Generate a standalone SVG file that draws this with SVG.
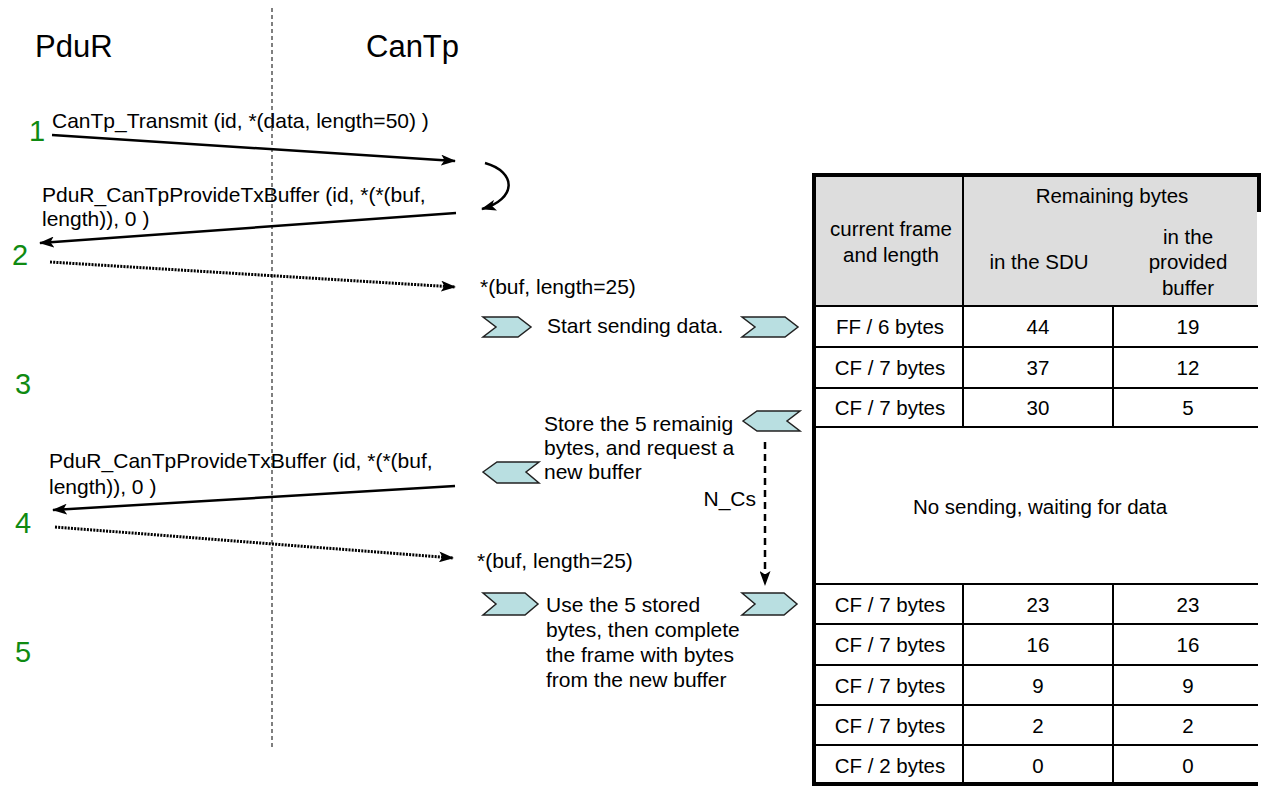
<svg xmlns="http://www.w3.org/2000/svg" width="1262" height="786" viewBox="0 0 1262 786">
<defs>
<marker id="ah" viewBox="0 0 15 11" refX="14" refY="5.5" markerWidth="15" markerHeight="11" markerUnits="userSpaceOnUse" orient="auto">
<path d="M0,0 L15,5.5 L0,11 L3.5,5.5 z" fill="#000"/>
</marker>
<style>
text{font-family:"Liberation Sans",Arial,sans-serif;fill:#000}
.t{font-size:21px}
.title{font-size:31px}
.num{font-size:29px;fill:#0f8a12}
.tb{font-size:20.5px;text-anchor:middle}
.msg{stroke:#000;stroke-width:2.5;fill:none}
.dot{stroke:#000;stroke-width:3;fill:none;stroke-dasharray:2 1.2}
.chev{fill:#b9dfe1;stroke:#222;stroke-width:1.5;stroke-linejoin:miter}
.grid{stroke:#000;stroke-width:2;fill:none}
.outer{stroke:#000;stroke-width:4;fill:none}
</style>
</defs>
<rect width="1262" height="786" fill="#fff"/>

<g id="lifeline-divider">
<line x1="272" y1="8" x2="272" y2="750" stroke="#555" stroke-width="1.5" stroke-dasharray="4 3"/>
</g>

<g id="pdur-title"><text class="title" x="35" y="57">PduR</text></g>
<g id="cantp-title"><text class="title" x="366" y="57">CanTp</text></g>

<g id="step-numbers">
<text class="num" x="29" y="141">1</text>
<text class="num" x="12" y="265">2</text>
<text class="num" x="15" y="394">3</text>
<text class="num" x="15" y="533">4</text>
<text class="num" x="15" y="662">5</text>
</g>

<g id="connectors">
<path class="msg" d="M52,135 L455,161" marker-end="url(#ah)"/>
<path class="msg" d="M485,163 C517,172 517,199 482,209" marker-end="url(#ah)"/>
<path class="msg" d="M456,213 L40,243" marker-end="url(#ah)"/>
<path class="dot" d="M50,262 L455,287" marker-end="url(#ah)"/>
<path class="msg" d="M455,486 L53,510" marker-end="url(#ah)"/>
<path class="dot" d="M55,527 L453,558" marker-end="url(#ah)"/>
<path d="M765,442 L765,585" stroke="#000" stroke-width="2.5" stroke-dasharray="7 5" fill="none" marker-end="url(#ah)"/>
</g>

<g id="msg-labels">
<text class="t" x="52" y="128">CanTp_Transmit (id, *(data, length=50) )</text>
<text class="t" x="42" y="202">PduR_CanTpProvideTxBuffer (id, *(*(buf,</text>
<text class="t" x="42" y="226">length)), 0 )</text>
<text class="t" x="480" y="294">*(buf, length=25)</text>
<text class="t" x="49" y="468">PduR_CanTpProvideTxBuffer (id, *(*(buf,</text>
<text class="t" x="49" y="494">length)), 0 )</text>
<text class="t" x="477" y="568">*(buf, length=25)</text>
<text class="t" x="756" y="506" text-anchor="end">N_Cs</text>
</g>

<g id="start-sending">
<polygon class="chev" points="483,317 518,317 531,327 518,337 483,337 496,327"/>
<text class="t" x="547" y="333">Start sending data.</text>
<polygon class="chev" points="742,317 785,317 798,327 785,337 742,337 755,327"/>
</g>

<g id="store-remaining">
<polygon class="chev" points="743,421 757,411 800,411 787,421 800,431 757,431"/>
<text class="t" x="544" y="431">Store the 5 remainig</text>
<text class="t" x="544" y="455">bytes, and request a</text>
<text class="t" x="544" y="479">new  buffer</text>
<polygon class="chev" points="483,472 497,462 539,462 526,472 539,483 497,483"/>
</g>

<g id="use-stored">
<polygon class="chev" points="483,593 525,593 538,604 525,615 483,615 496,604"/>
<text class="t" x="546" y="612">Use the 5 stored</text>
<text class="t" x="546" y="637">bytes, then complete</text>
<text class="t" x="546" y="662">the frame with bytes</text>
<text class="t" x="546" y="687">from the new buffer</text>
<polygon class="chev" points="742,593 784,593 797,604 784,615 742,615 755,604"/>
</g>

<g id="table">
<rect x="815" y="175" width="442" height="131" fill="#dddddd"/>
<line class="grid" x1="815" y1="306" x2="1258" y2="306"/>
<line class="grid" x1="815" y1="347" x2="1258" y2="347"/>
<line class="grid" x1="815" y1="388" x2="1258" y2="388"/>
<line class="grid" x1="815" y1="427" x2="1258" y2="427"/>
<line class="grid" x1="815" y1="584" x2="1258" y2="584"/>
<line class="grid" x1="815" y1="624" x2="1258" y2="624"/>
<line class="grid" x1="815" y1="665" x2="1258" y2="665"/>
<line class="grid" x1="815" y1="705" x2="1258" y2="705"/>
<line class="grid" x1="815" y1="745" x2="1258" y2="745"/>
<line class="grid" x1="963" y1="175" x2="963" y2="427"/>
<line class="grid" x1="963" y1="584" x2="963" y2="784"/>
<line class="grid" x1="1113" y1="306" x2="1113" y2="427"/>
<line class="grid" x1="1113" y1="584" x2="1113" y2="784"/>
<line class="outer" x1="812" y1="175" x2="1261" y2="175"/>
<line class="outer" x1="814" y1="173" x2="814" y2="786"/>
<line class="outer" x1="812" y1="784" x2="1258" y2="784"/>
<line class="outer" x1="1259" y1="173" x2="1259" y2="212"/>
<text class="tb" x="1112" y="203">Remaining bytes</text>
<text class="tb" x="891" y="236">current frame</text>
<text class="tb" x="891" y="262">and length</text>
<text class="tb" x="1039" y="269">in the SDU</text>
<text class="tb" x="1188" y="244">in the</text>
<text class="tb" x="1188" y="269">provided</text>
<text class="tb" x="1188" y="295">buffer</text>
<text class="tb" x="890" y="334">FF / 6 bytes</text><text class="tb" x="1038" y="334">44</text><text class="tb" x="1188" y="334">19</text>
<text class="tb" x="890" y="375">CF / 7 bytes</text><text class="tb" x="1038" y="375">37</text><text class="tb" x="1188" y="375">12</text>
<text class="tb" x="890" y="415">CF / 7 bytes</text><text class="tb" x="1038" y="415">30</text><text class="tb" x="1188" y="415">5</text>
<text class="tb" x="1040" y="514">No sending, waiting for data</text>
<text class="tb" x="890" y="612">CF / 7 bytes</text><text class="tb" x="1038" y="612">23</text><text class="tb" x="1188" y="612">23</text>
<text class="tb" x="890" y="652">CF / 7 bytes</text><text class="tb" x="1038" y="652">16</text><text class="tb" x="1188" y="652">16</text>
<text class="tb" x="890" y="693">CF / 7 bytes</text><text class="tb" x="1038" y="693">9</text><text class="tb" x="1188" y="693">9</text>
<text class="tb" x="890" y="733">CF / 7 bytes</text><text class="tb" x="1038" y="733">2</text><text class="tb" x="1188" y="733">2</text>
<text class="tb" x="890" y="773">CF / 2 bytes</text><text class="tb" x="1038" y="773">0</text><text class="tb" x="1188" y="773">0</text>
</g>
</svg>
